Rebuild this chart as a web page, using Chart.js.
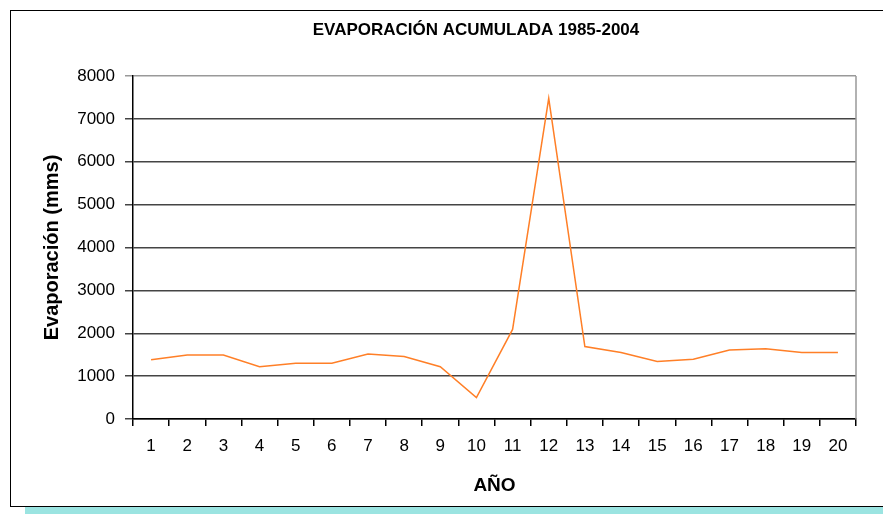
<!DOCTYPE html>
<html>
<head>
<meta charset="utf-8">
<script src="https://cdn.jsdelivr.net/npm/chart.js@4.4.1/dist/chart.umd.min.js"></script>
<style>
  body { margin: 0; background: #fff; }
  #wrap { position: relative; width: 883px; height: 514px; overflow: hidden; }
  #frame { position: absolute; left: 10px; top: 10px; width: 880px; height: 495px; border: 1px solid #000; }
  #shadow { position: absolute; left: 25px; top: 507px; width: 870px; height: 7px; background: #9be4e1; }
  canvas { position: absolute; left: 0; top: 0; }
</style>
</head>
<body>
<div id="wrap">
  <div id="frame"></div>
  <div id="shadow"></div>
  <canvas id="evapChart" width="883" height="514"></canvas>
</div>
<script>
// data
const years = ['1','2','3','4','5','6','7','8','9','10','11','12','13','14','15','16','17','18','19','20'];
const evaporacion = [1380, 1490, 1490, 1220, 1300, 1300, 1515, 1455, 1220, 500, 2090, 7480, 1690, 1550, 1340, 1395, 1610, 1640, 1550, 1550];
const chartTitle = 'EVAPORACIÓN ACUMULADA 1985-2004';
const yTitle = 'Evaporación (mms)';
const xTitle = 'AÑO';

Chart.defaults.font.family = "'Liberation Sans', Arial, sans-serif";
Chart.defaults.color = '#000';

// title drawn by hand so it can sit where Excel put it
const titlePlugin = {
  id: 'excelTitle',
  afterDraw(chart) {
    const ctx = chart.ctx;
    ctx.save();
    ctx.font = "bold 17px 'Liberation Sans', Arial, sans-serif";
    ctx.fillStyle = '#000';
    ctx.textAlign = 'center';
    ctx.textBaseline = 'middle';
    ctx.fillText(chartTitle, 476, 30);
    ctx.restore();
  }
};

// gray right edge of the plot area
const plotBorder = {
  id: 'plotBorder',
  afterDatasetsDraw(chart) {
    const { ctx, chartArea } = chart;
    ctx.save();
    ctx.strokeStyle = '#999';
    ctx.lineWidth = 1.5;
    ctx.beginPath();
    ctx.moveTo(chartArea.right, chartArea.top);
    ctx.lineTo(chartArea.right, chartArea.bottom);
    ctx.stroke();
    ctx.restore();
  }
};

new Chart('evapChart', {
  type: 'line',
  data: {
    labels: years,
    datasets: [{
      data: evaporacion,
      borderColor: '#ff7f27',
      borderWidth: 1.5,
      pointRadius: 0,
      tension: 0,
      fill: false
    }]
  },
  options: {
    responsive: false,
    animation: false,
    layout: { padding: { left: 0, right: 27, top: 76, bottom: 0 } },
    plugins: {
      legend: { display: false },
      tooltip: { enabled: false }
    },
    scales: {
      x: {
        type: 'category',
        offset: true,
        afterFit: (scale) => { scale.height = 95; },
        grid: { offset: true, drawOnChartArea: false, tickLength: 7, color: '#000', lineWidth: 1.5 },
        border: { color: '#000', width: 1.5 },
        ticks: { font: { size: 17 }, padding: 10, maxRotation: 0, autoSkip: false },
        title: { display: true, text: xTitle, font: { size: 19, weight: 'bold' }, padding: { top: 0, bottom: 17 } }
      },
      y: {
        min: 0,
        max: 8000,
        afterFit: (scale) => { scale.width = 133; },
        grid: {
          color: (c) => c.tick && c.tick.value === 8000 ? '#999' : '#444',
          lineWidth: 1.5,
          tickLength: 8
        },
        border: { color: '#000', width: 1.5 },
        ticks: { stepSize: 1000, font: { size: 17 }, padding: 10, callback: (v) => String(v) },
        title: { display: true, text: yTitle, font: { size: 20, weight: 'bold' }, padding: { top: 40, bottom: 0 } }
      }
    }
  },
  plugins: [titlePlugin, plotBorder]
});
</script>
</body>
</html>
